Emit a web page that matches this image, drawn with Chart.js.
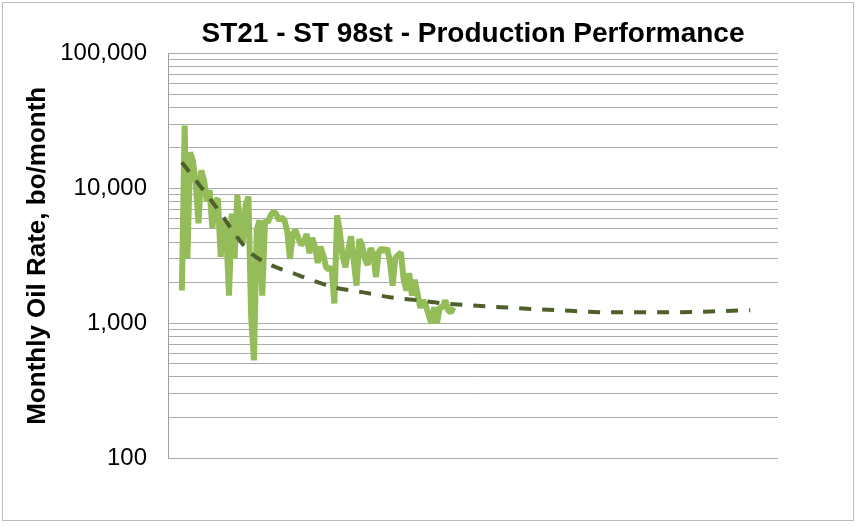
<!DOCTYPE html>
<html>
<head>
<meta charset="utf-8">
<script src="https://cdn.jsdelivr.net/npm/chart.js@4/dist/chart.umd.min.js"></script>
<style>
  html, body { margin: 0; padding: 0; background: #fff; }
  #wrap { width: 856px; height: 526px; }
</style>
</head>
<body>
<div id="wrap"><canvas id="prodChart" width="856" height="526"></canvas></div>
<script>
// monthly oil rate (bo/month)
var months = [5, 6, 7, 8, 9, 10, 11, 12, 13, 14, 15, 16, 17, 18, 19, 20, 21, 22, 23, 24,
  25, 26, 27, 28, 29, 30, 31, 32, 33, 34, 35, 36, 37, 38, 39, 40, 41, 42, 43, 44,
  45, 46, 47, 48, 49, 50, 51, 52, 53, 54, 55, 56, 57, 58, 59, 60, 61, 62, 63, 64,
  65, 66, 67, 68, 69, 70, 71, 72, 73, 74, 75, 76, 77, 78, 79, 80, 81, 82, 83, 84,
  85, 86, 87, 88, 89, 90, 91, 92, 93, 94, 95, 96, 97, 98, 99, 100, 101, 102, 103];
var oilRate = [1750, 29300, 3000, 18500, 16000, 11000, 5500, 13600, 11500, 8000,
  9700, 5100, 8000, 8400, 3100, 5800, 4800, 1600, 6500, 3000,
  8900, 5500, 4000, 7500, 8700, 1100, 530, 4900, 5800, 1600,
  5800, 5600, 6300, 6700, 6500, 5800, 6100, 5800, 4800, 3000,
  4600, 4900, 4300, 3800, 4000, 4600, 3300, 4300, 3700, 2800,
  3700, 3200, 2600, 2500, 2600, 1400, 6300, 4700, 3100, 2600,
  3500, 4400, 2900, 1900, 4200, 3800, 3000, 2700, 3600, 3300,
  2200, 3360, 3600, 3400, 3600, 2900, 1900, 3050, 3200, 3350,
  2100, 1750, 2350, 1600, 2100, 1650, 1300, 1480, 1350, 1150,
  1000, 1310, 1000, 1310, 1300, 1480, 1250, 1200, 1310];

// decline trend (dashed)
var trendMonths = [5, 10, 15, 20, 25, 30, 35, 40, 45, 50, 55, 60, 70, 80, 90, 100, 120, 140, 160, 180, 200, 210];
var trendRate = [15600, 11500, 8430, 6100, 4330, 3300, 2830, 2550, 2360, 2150, 1980, 1840, 1700, 1560, 1480, 1400, 1315, 1250, 1205, 1205, 1230, 1250];

var yTicks = [100, 200, 300, 400, 500, 600, 700, 800, 900,
  1000, 2000, 3000, 4000, 5000, 6000, 7000, 8000, 9000,
  10000, 20000, 30000, 40000, 50000, 60000, 70000, 80000, 90000, 100000];
var labeledTicks = [100, 1000, 10000, 100000];

function toPoints(xs, ys) {
  var pts = [];
  for (var k = 0; k < xs.length; k++) pts.push({x: xs[k], y: ys[k]});
  return pts;
}

// gray frame round the whole chart
var framePlugin = {
  id: 'frame',
  beforeDraw: function(chart) {
    var ctx = chart.ctx;
    ctx.save();
    ctx.fillStyle = '#fff';
    ctx.fillRect(0, 0, chart.width, chart.height);
    ctx.strokeStyle = '#BDBDBD';
    ctx.lineWidth = 1;
    ctx.strokeRect(2.5, 2.5, chart.width - 5, chart.height - 8);
    ctx.restore();
  }
};

var ctx = document.getElementById('prodChart').getContext('2d');
var chart = new Chart(ctx, {
  type: 'line',
  data: {
    datasets: [{
      label: 'Oil rate',
      data: toPoints(months, oilRate),
      borderColor: '#94BC58',
      borderWidth: 6,
      borderJoinStyle: 'bevel',
      pointRadius: 0,
      fill: false,
      tension: 0,
      order: 2
    }, {
      label: 'Trend',
      data: toPoints(trendMonths, trendRate),
      borderColor: '#4E5F2A',
      borderWidth: 4,
      borderDash: [12, 11],
      pointRadius: 0,
      fill: false,
      cubicInterpolationMode: 'monotone',
      order: 1
    }]
  },
  options: {
    responsive: false,
    animation: false,
    events: [],
    layout: { padding: { left: 0, right: 78, top: 0, bottom: 68 } },
    plugins: {
      legend: { display: false },
      tooltip: { enabled: false },
      title: {
        display: true,
        text: 'ST21 - ST 98st - Production Performance',
        fullSize: false,
        color: '#000',
        font: { family: "'Liberation Sans', Arial, sans-serif", size: 28, weight: 'bold' },
        padding: { top: 17, bottom: 3 }
      }
    },
    scales: {
      x: {
        type: 'linear',
        min: 0,
        max: 220,
        display: false
      },
      y: {
        type: 'logarithmic',
        min: 100,
        max: 100000,
        afterFit: function(scale) { scale.width = 168; },
        afterBuildTicks: function(scale) {
          scale.ticks = yTicks.map(function(v) { return {value: v}; });
        },
        ticks: {
          autoSkip: false,
          padding: 21,
          color: '#000',
          font: { family: "'Liberation Sans', Arial, sans-serif", size: 24 },
          callback: function(v) {
            return labeledTicks.indexOf(v) >= 0 ? v.toLocaleString('en-US') : '';
          }
        },
        grid: { color: '#ABABAB', lineWidth: 1, drawTicks: false },
        border: { display: true, color: '#A0A0A0', width: 1 },
        title: {
          display: true,
          text: 'Monthly Oil Rate, bo/month',
          color: '#000',
          font: { family: "'Liberation Sans', Arial, sans-serif", size: 26, weight: 'bold' },
          padding: { top: 22, bottom: 0 }
        }
      }
    }
  },
  plugins: [framePlugin]
});
</script>
</body>
</html>
